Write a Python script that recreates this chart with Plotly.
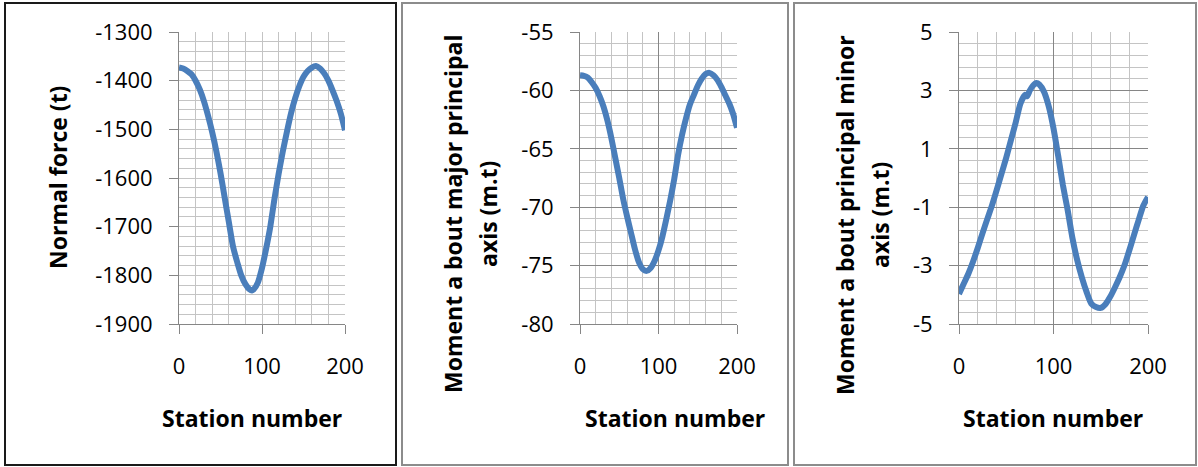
import plotly.graph_objects as go

W, H = 1198, 467

# ---------------- data ----------------
stations_nf = [0, 5, 10, 15, 20, 25, 30, 35, 40, 45, 50, 55, 60, 65, 68, 70, 75, 80, 85, 88, 90, 95,
               100, 105, 110, 115, 120, 125, 130, 135, 140, 145, 150, 155, 160, 165, 170, 175,
               180, 185, 190, 195, 200]
normal_force = [-1373, -1375, -1380, -1387, -1400, -1418, -1442, -1472, -1506, -1545, -1590, -1640,
                -1690, -1740, -1760, -1772, -1800, -1818, -1829, -1831, -1829, -1815,
                -1785, -1745, -1700, -1643, -1592, -1546, -1505, -1467, -1436, -1411, -1392,
                -1380, -1373, -1370, -1375, -1385, -1400, -1420, -1442, -1468, -1502]

stations_mj = [0, 5, 10, 15, 20, 25, 30, 35, 40, 45, 50, 55, 60, 65, 70, 75, 80, 85, 90, 95,
               100, 105, 110, 115, 120, 125, 130, 135, 140, 145, 150, 155, 160, 165, 170, 175,
               180, 185, 190, 195, 200]
moment_major = [-58.7, -58.75, -58.9, -59.3, -59.8, -60.5, -61.4, -62.6, -64.1, -65.8, -67.5,
                -69.3, -70.8, -72.2, -73.6, -74.7, -75.3, -75.45, -75.2, -74.6,
                -73.7, -72.5, -71.0, -69.4, -67.6, -65.5, -63.8, -62.4, -61.2, -60.4, -59.6,
                -59.0, -58.6, -58.5, -58.7, -59.1, -59.7, -60.4, -61.1, -62.0, -63.2]

stations_mn = [0, 5, 10, 15, 20, 25, 30, 35, 40, 45, 50, 55, 60, 65, 70, 72, 75, 78, 82, 85, 90,
               95, 100, 105, 110, 115, 120, 125, 130, 135, 140, 145, 150, 155, 160, 165, 170,
               175, 180, 185, 190, 195, 200]
moment_minor = [-3.97, -3.62, -3.27, -2.85, -2.38, -1.88, -1.4, -0.93, -0.4, 0.15, 0.7, 1.3, 1.9,
                2.55, 2.85, 2.8, 3.0, 3.15, 3.25, 3.2, 2.95,
                2.45, 1.7, 0.75, -0.25, -1.1, -2.05, -2.8, -3.4, -3.9, -4.3, -4.42, -4.45,
                -4.32, -4.07, -3.75, -3.4, -3.0, -2.5, -1.97, -1.45, -0.95, -0.65]

x_ticks = [0, 100, 200]
x_tick_text = ["0", "100", "200"]
nf_ticks = [-1300, -1400, -1500, -1600, -1700, -1800, -1900]
nf_tick_text = ["-1300", "-1400", "-1500", "-1600", "-1700", "-1800", "-1900"]
mj_ticks = [-55, -60, -65, -70, -75, -80]
mj_tick_text = ["-55", "-60", "-65", "-70", "-75", "-80"]
mn_ticks = [5, 3, 1, -1, -3, -5]
mn_tick_text = ["5", "3", "1", "-1", "-3", "-5"]

x_title = "Station number"
y_titles = ["Normal force (t)",
            ["Moment a bout major principal", "axis (m.t)"],
            ["Moment a bout principal minor", "axis (m.t)"]]

# ---------------- style ----------------
FONT = "'Open Sans', Lato, sans-serif"
LINE_COLOR = "#4a7ebb"
AXIS_COLOR = "#868686"
MINOR_GRID = "#c4c4c4"


def px_x(p):
    return p / W


def px_y(p):
    return 1 - p / H


plot_top, plot_bot = 32, 324
panels = [
    dict(x0=179, x1=345, yr=[-1900, -1300], ymin=20, tv=nf_ticks, tt=nf_tick_text,
         majgrid=MINOR_GRID, xs=stations_nf, ys=normal_force),
    dict(x0=580, x1=737, yr=[-80, -55], ymin=1, tv=mj_ticks, tt=mj_tick_text,
         majgrid=AXIS_COLOR, xs=stations_mj, ys=moment_major),
    dict(x0=959, x1=1148, yr=[-5, 5], ymin=0.4, tv=mn_ticks, tt=mn_tick_text,
         majgrid=AXIS_COLOR, xs=stations_mn, ys=moment_minor),
]

fig = go.Figure()
layout = dict(
    width=W, height=H, margin=dict(l=0, r=0, t=0, b=0, pad=0, autoexpand=False),
    paper_bgcolor="white", plot_bgcolor="white", showlegend=False,
    font=dict(family=FONT, size=21, color="black"),
)

for i, p in enumerate(panels, start=1):
    sfx = "" if i == 1 else str(i)
    fig.add_trace(go.Scatter(
        x=p["xs"], y=p["ys"], mode="lines",
        line=dict(color=LINE_COLOR, width=6, shape="spline", smoothing=0.6),
        xaxis="x" + sfx, yaxis="y" + sfx, hoverinfo="skip"))
    layout["xaxis" + sfx] = dict(
        domain=[px_x(p["x0"]), px_x(p["x1"])], anchor="y" + sfx, range=[0, 200],
        tickvals=x_ticks, ticktext=x_tick_text, ticks="outside", ticklen=9, tickcolor=AXIS_COLOR,
        showline=True, linecolor=AXIS_COLOR, linewidth=1, zeroline=False, automargin=False,
        showgrid=True, gridcolor=p["majgrid"], gridwidth=1,
        minor=dict(dtick=20, tick0=0, showgrid=True, gridcolor=MINOR_GRID, gridwidth=1, ticks=""),
        ticklabelstandoff=14, tickfont=dict(size=22), fixedrange=True,
    )
    layout["yaxis" + sfx] = dict(
        domain=[px_y(plot_bot), px_y(plot_top)], anchor="x" + sfx, range=p["yr"],
        tickvals=p["tv"], ticktext=p["tt"], ticks="outside", ticklen=9, tickcolor=AXIS_COLOR,
        showline=True, linecolor=AXIS_COLOR, linewidth=1, zeroline=False, automargin=False,
        showgrid=True, gridcolor=p["majgrid"], gridwidth=1,
        minor=dict(dtick=p["ymin"], tick0=p["yr"][0], showgrid=True, gridcolor=MINOR_GRID,
                   gridwidth=1, ticks=""),
        ticklabelstandoff=12, tickfont=dict(size=22), fixedrange=True,
    )

layout["annotations"] = []
ann_font = dict(family=FONT, size=23, color="black")
for cx in (252, 675, 1053):
    layout["annotations"].append(dict(
        text="<b>" + x_title + "</b>", x=px_x(cx), y=px_y(418), xref="paper", yref="paper",
        showarrow=False, xanchor="center", yanchor="middle", font=ann_font))
layout["annotations"].append(dict(
    text="<b>" + y_titles[0] + "</b>", x=px_x(58), y=px_y(178), xref="paper", yref="paper",
    showarrow=False, textangle=-90, xanchor="center", yanchor="middle", font=ann_font))
for (x1, x2, cy), lines in zip([(453, 488, 214), (845, 880, 215)], y_titles[1:]):
    for xx, t in zip((x1, x2), lines):
        layout["annotations"].append(dict(
            text="<b>" + t + "</b>", x=px_x(xx), y=px_y(cy), xref="paper", yref="paper",
            showarrow=False, textangle=-90, xanchor="center", yanchor="middle", font=ann_font))

layout["shapes"] = [
    dict(type="rect", xref="paper", yref="paper", x0=px_x(5), x1=px_x(396), y0=px_y(465), y1=px_y(3),
         line=dict(color="#1a1a1a", width=2), layer="above"),
    dict(type="rect", xref="paper", yref="paper", x0=px_x(402), x1=px_x(788), y0=px_y(465), y1=px_y(3),
         line=dict(color="#8c8c8c", width=2), layer="above"),
    dict(type="rect", xref="paper", yref="paper", x0=px_x(794), x1=px_x(1196), y0=px_y(465), y1=px_y(3),
         line=dict(color="#8c8c8c", width=2), layer="above"),
]

fig.update_layout(**layout)
fig.write_html(
    "out.html",
    config=dict(displayModeBar=False, responsive=False),
    post_script="document.body.style.margin='0';document.body.style.overflow='hidden';",
)
